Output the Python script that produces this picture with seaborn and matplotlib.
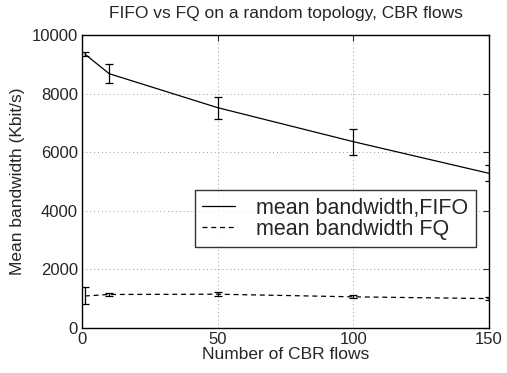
import numpy as np
import pandas as pd
import matplotlib
matplotlib.use("Agg")
import matplotlib.pyplot as plt
import seaborn as sns

# Data
flows = [1, 10, 50, 100, 150]
fifo_mean = [9350, 8680, 7520, 6360, 5280]
fifo_err = [60, 330, 380, 440, 270]
fq_mean = [1090, 1140, 1150, 1060, 1000]
fq_err = [290, 50, 60, 50, 40]

labels = ["mean bandwidth,FIFO", "mean bandwidth FQ"]

df = pd.DataFrame({
    "flows": flows * 2,
    "bw": fifo_mean + fq_mean,
    "queue": [labels[0]] * len(flows) + [labels[1]] * len(flows),
})

sns.set_style("white")
plt.rcParams["font.family"] = ["Liberation Sans", "DejaVu Sans"]

fig = plt.figure(figsize=(5.07, 3.73), dpi=100)
ax = fig.add_axes([0.162, 0.121, 0.802, 0.785])

sns.lineplot(
    data=df, x="flows", y="bw", style="queue",
    dashes={labels[0]: "", labels[1]: (4, 3)},
    color="black", linewidth=0.9, ax=ax, legend=True,
)

# error bars
ax.errorbar(flows, fifo_mean, yerr=fifo_err, fmt="none",
            ecolor="black", elinewidth=0.9, capsize=3, capthick=0.9)
ax.errorbar(flows, fq_mean, yerr=fq_err, fmt="none",
            ecolor="black", elinewidth=0.9, capsize=3, capthick=0.9)

ax.set_xlim(0, 150)
ax.set_ylim(0, 10000)
ax.set_xticks([0, 50, 100, 150])
ax.set_yticks([0, 2000, 4000, 6000, 8000, 10000])
ax.grid(True, linestyle=(0, (1, 3)), color="#999999", linewidth=0.7)

ax.tick_params(direction="in", length=4, width=0.8, labelsize=12,
               top=True, right=True, pad=3)
for s in ax.spines.values():
    s.set_linewidth(1.0)
    s.set_color("black")

ax.set_xlabel("Number of CBR flows", fontsize=12.5, labelpad=0)
ax.set_ylabel("Mean bandwidth (Kbit/s)", fontsize=12.5, labelpad=5)
ax.set_title("FIFO vs FQ on a random topology, CBR flows", fontsize=12.5, pad=12)

leg = ax.legend(loc="center right", bbox_to_anchor=(0.968, 0.372),
                fontsize=15.5, frameon=True, fancybox=False,
                edgecolor="black", handlelength=1.5, handletextpad=1.0,
                borderpad=0.35, labelspacing=0.0, borderaxespad=0)
leg.get_frame().set_linewidth(1.0)
leg.set_title(None)

fig.savefig("out.png", dpi=100)
